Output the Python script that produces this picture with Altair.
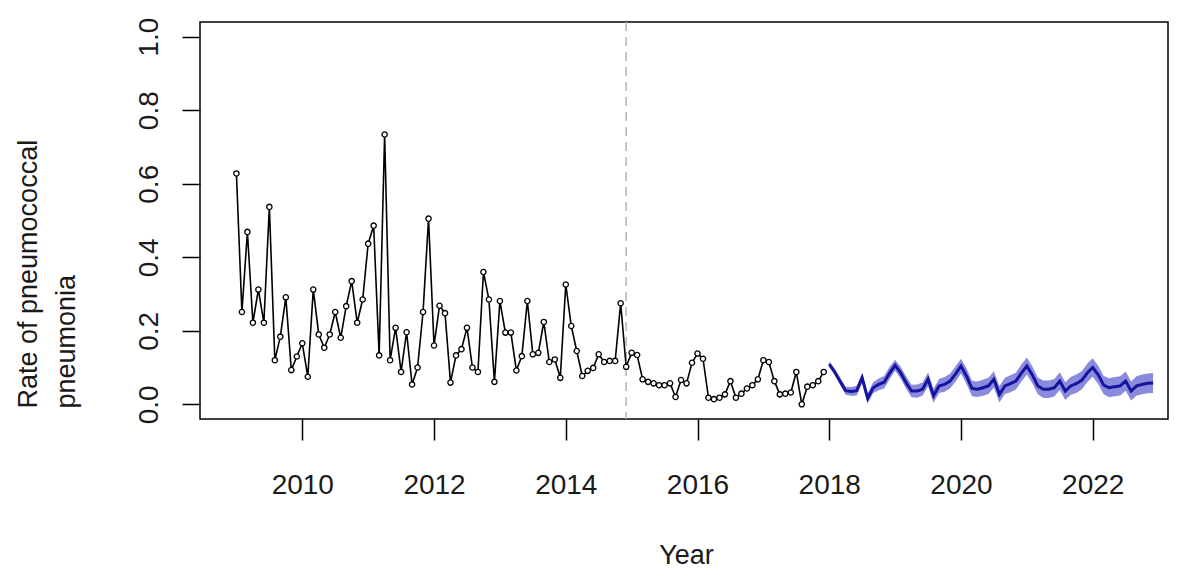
import altair as alt
import pandas as pd

# Observed monthly rate, Jan 2009 - Dec 2017
obs_values = [
    0.628, 0.251, 0.469, 0.222, 0.312, 0.222, 0.537, 0.120, 0.184, 0.291, 0.093, 0.130,
    0.166, 0.075, 0.312, 0.190, 0.154, 0.190, 0.251, 0.181, 0.267, 0.335, 0.222, 0.285,
    0.437, 0.486, 0.133, 0.734, 0.120, 0.208, 0.088, 0.196, 0.054, 0.100, 0.251, 0.505,
    0.160, 0.268, 0.248, 0.059, 0.133, 0.150, 0.208, 0.100, 0.088, 0.360, 0.285, 0.061,
    0.281, 0.195, 0.195, 0.092, 0.131, 0.281, 0.136, 0.140, 0.224, 0.115, 0.122, 0.072,
    0.326, 0.213, 0.145, 0.077, 0.091, 0.099, 0.136, 0.115, 0.118, 0.118, 0.275, 0.102,
    0.140, 0.134, 0.068, 0.061, 0.057, 0.052, 0.052, 0.057, 0.020, 0.066, 0.057, 0.113,
    0.138, 0.124, 0.018, 0.014, 0.018, 0.027, 0.063, 0.018, 0.029, 0.043, 0.052, 0.068,
    0.120, 0.115, 0.063, 0.027, 0.029, 0.032, 0.088, 0.000, 0.048, 0.052, 0.063, 0.088,
]
obs_start_year = 2009

# Forecast, Jan 2018 - Dec 2022
fc_values = [
    0.109, 0.088, 0.062, 0.037, 0.035, 0.037, 0.072, 0.016, 0.045, 0.054, 0.060, 0.085,
    0.106, 0.086, 0.059, 0.036, 0.036, 0.041, 0.068, 0.023, 0.050, 0.054, 0.063, 0.082,
    0.104, 0.077, 0.043, 0.041, 0.045, 0.050, 0.068, 0.027, 0.050, 0.056, 0.063, 0.085,
    0.104, 0.080, 0.050, 0.041, 0.041, 0.045, 0.063, 0.036, 0.050, 0.056, 0.065, 0.085,
    0.100, 0.080, 0.052, 0.045, 0.048, 0.050, 0.063, 0.036, 0.050, 0.054, 0.057, 0.058,
]
fc_lower = [
    0.101, 0.079, 0.052, 0.026, 0.023, 0.024, 0.058, 0.002, 0.030, 0.038, 0.043, 0.068,
    0.091, 0.070, 0.042, 0.019, 0.018, 0.023, 0.049, 0.004, 0.031, 0.034, 0.043, 0.061,
    0.084, 0.056, 0.022, 0.020, 0.023, 0.028, 0.046, 0.005, 0.028, 0.033, 0.040, 0.062,
    0.081, 0.057, 0.027, 0.017, 0.017, 0.021, 0.039, 0.012, 0.026, 0.031, 0.040, 0.060,
    0.075, 0.055, 0.027, 0.019, 0.022, 0.024, 0.037, 0.010, 0.024, 0.027, 0.030, 0.031,
]
fc_upper = [
    0.117, 0.097, 0.072, 0.048, 0.047, 0.050, 0.086, 0.030, 0.060, 0.070, 0.077, 0.102,
    0.121, 0.102, 0.076, 0.053, 0.054, 0.059, 0.087, 0.042, 0.069, 0.074, 0.083, 0.103,
    0.124, 0.098, 0.064, 0.062, 0.067, 0.072, 0.090, 0.049, 0.072, 0.079, 0.086, 0.108,
    0.127, 0.103, 0.073, 0.065, 0.065, 0.069, 0.087, 0.060, 0.074, 0.081, 0.090, 0.110,
    0.125, 0.105, 0.077, 0.071, 0.074, 0.076, 0.089, 0.062, 0.076, 0.081, 0.084, 0.085,
]
fc_start_year = 2018

intervention_time = 2014 + 11 / 12  # Dec 2014

x_ticks = [2010, 2012, 2014, 2016, 2018, 2020, 2022]
y_ticks = [0.0, 0.2, 0.4, 0.6, 0.8, 1.0]

obs = pd.DataFrame({
    "t": [obs_start_year + i / 12 for i in range(len(obs_values))],
    "rate": obs_values,
})
fc = pd.DataFrame({
    "t": [fc_start_year + i / 12 for i in range(len(fc_values))],
    "rate": fc_values,
    "lo": fc_lower,
    "hi": fc_upper,
})
vline = pd.DataFrame({"t": [intervention_time]})

FONT = "Liberation Sans"
TXT = "#1a1a1a"

xscale = alt.Scale(domain=[2008.447, 2023.143], nice=False, zero=False)
yscale = alt.Scale(domain=[-0.04, 1.04], nice=False, zero=False)

xaxis = alt.Axis(
    values=x_ticks, format="d", title="Year", grid=False, domain=False,
    tickSize=21, tickWidth=1.5, tickColor="black",
    labelFontSize=28, labelFont=FONT, labelColor=TXT,
    labelPadding=53, labelBaseline="alphabetic", labelFlush=False, labelOverlap=False,
    titleFontSize=27, titleFont=FONT, titleFontWeight="normal", titleColor=TXT,
    titleX=486, titleY=144, titleBaseline="alphabetic", titleAlign="center",
)
yaxis = alt.Axis(
    values=y_ticks, format=".1f", title=["Rate of pneumococcal", "pneumonia"],
    grid=False, domain=False,
    tickSize=18, tickWidth=1.5, tickColor="black",
    labelFontSize=28, labelFont=FONT, labelColor=TXT,
    labelAngle=270, labelAlign="center", labelBaseline="alphabetic", labelPadding=25,
    labelFlush=False, labelOverlap=False,
    titleFontSize=27, titleFont=FONT, titleFontWeight="normal", titleColor=TXT,
    titleAngle=270, titleAlign="left", titleBaseline="alphabetic",
    titleX=-164, titleY=386, titleLineHeight=38,
)

rule = alt.Chart(vline).mark_rule(color="#b4b4b4", strokeDash=[9, 6], strokeWidth=1.5).encode(
    x=alt.X("t:Q", scale=xscale, axis=xaxis)
)

line_obs = alt.Chart(obs).mark_line(color="black", strokeWidth=1.6).encode(
    x=alt.X("t:Q", scale=xscale, axis=xaxis),
    y=alt.Y("rate:Q", scale=yscale, axis=yaxis),
)
pts_obs = alt.Chart(obs).mark_point(
    shape="circle", filled=False, fill="white", fillOpacity=1,
    stroke="black", strokeWidth=1.3, size=28, opacity=1,
).encode(
    x=alt.X("t:Q", scale=xscale),
    y=alt.Y("rate:Q", scale=yscale),
)

band = alt.Chart(fc).mark_area(color="#8a8ade", opacity=1).encode(
    x=alt.X("t:Q", scale=xscale),
    y=alt.Y("lo:Q", scale=yscale),
    y2="hi:Q",
)
line_fc = alt.Chart(fc).mark_line(color="#14149c", strokeWidth=3).encode(
    x=alt.X("t:Q", scale=xscale),
    y=alt.Y("rate:Q", scale=yscale),
)

chart = alt.layer(rule, line_obs, pts_obs, band, line_fc).properties(
    width=968, height=397,
    autosize=alt.AutoSizeParams(type="none"),
    padding={"left": 192, "top": 14, "right": 6, "bottom": 150},
).configure(
    background="white",
).configure_view(
    stroke="black", strokeWidth=1.5
)

chart.save("out.html", embed_options={"renderer": "svg", "actions": False})
